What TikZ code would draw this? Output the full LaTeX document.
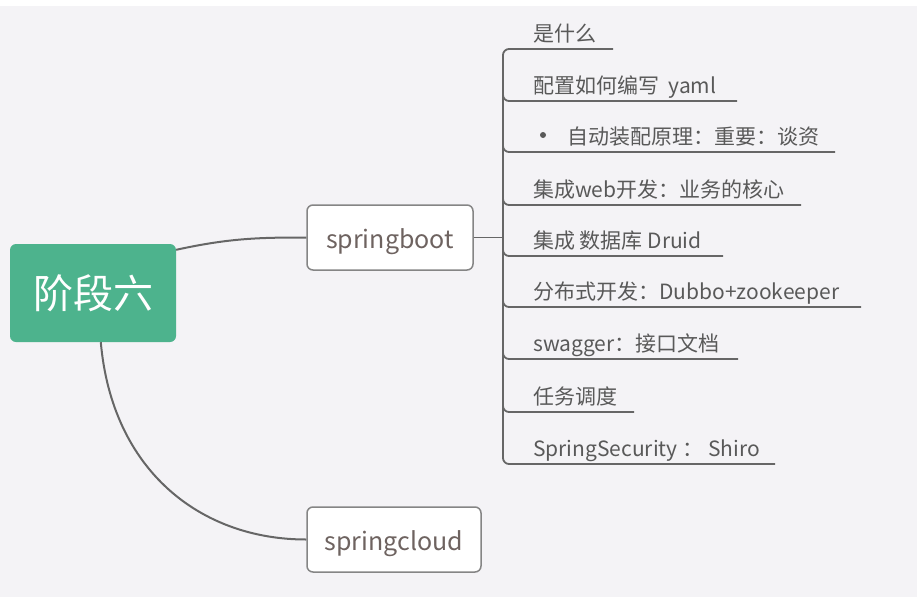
\documentclass[tikz,border=0pt]{standalone}
\usepackage{fontspec}
\setmainfont{Noto Sans CJK SC}
\usetikzlibrary{calc}
\definecolor{bg}{HTML}{F4F3F6}
\definecolor{rootgreen}{HTML}{4DB38D}
\definecolor{linegray}{HTML}{666666}
\definecolor{txtgray}{HTML}{595959}
\definecolor{boxtxt}{HTML}{6E6360}
\definecolor{boxborder}{HTML}{858585}
\tikzset{
  rootbox/.style={fill=rootgreen, rounded corners=6pt, text=white, font=\fontsize{40}{44}\selectfont, minimum width=166pt, minimum height=98pt, inner sep=0pt},
  topicbox/.style={draw=boxborder, line width=1.5pt, fill=white, rounded corners=6pt, text=boxtxt, font=\fontsize{25}{29}\selectfont, minimum height=65pt, inner sep=0pt, text height=23pt, text depth=1pt},
  item/.style={anchor=base west, inner sep=0pt, text=txtgray, font=\fontsize{21}{25}\selectfont},
  conn/.style={draw=linegray, line width=2pt},
  uline/.style={draw=linegray, line width=1.8pt, rounded corners=6pt},
}
\begin{document}
\begin{tikzpicture}[x=1pt, y=-1pt]
\useasboundingbox (0,0) rectangle (917,597);
\fill[white] (0,0) rectangle (917,6);
\fill[bg] (0,6) rectangle (917,597);

\node[rootbox] (root) at (93,293) {阶段六};
\node[topicbox, minimum width=166pt] (sb) at (390,237.5) {springboot};
\node[topicbox, minimum width=174pt] (sc) at (394,539.5) {springcloud};

\coordinate (r1) at ($(root.north east)+(0,6)$);
\coordinate (r2) at ($(root.south west)+(91,0)$);
\draw[conn] (r1) .. controls (230,238) and (260,237.5) .. (sb.west);
\draw[conn] (r2) .. controls (112,470) and (200,539.5) .. (sc.west);

\coordinate (j) at (503,237.5);
\draw[conn, line width=1.8pt] (sb.east) -- (j);

% items
\node[item] (i1) at (533,41) {是什么};
\node[item] (i2) at (533,93) {配置如何编写\ \ yaml};
\node[item] (i3) at (567,144) {自动装配原理：重要：谈资};
\node[item] (i4) at (533,197) {集成web开发：业务的核心};
\node[item] (i5) at (533,248) {集成 数据库 Druid};
\node[item] (i6) at (533,299) {分布式开发：Dubbo+zookeeper};
\node[item] (i7) at (533,351) {swagger：接口文档};
\node[item] (i8) at (533,404) {任务调度};
\node[item] (i9) at (533,456) {SpringSecurity ： Shiro};
\fill[txtgray] (543,135) circle (3pt);

\coordinate (e1) at (613,49);
\coordinate (e2) at (737,101);
\coordinate (e3) at (835,152);
\coordinate (e4) at (801,205);
\coordinate (e5) at (723,256);
\coordinate (e6) at (861,307);
\coordinate (e7) at (738,359);
\coordinate (e8) at (634,412);
\coordinate (e9) at (775,464);

\draw[uline] (e1) -- (503,49) -- (503,464) -- (e9);
\foreach \k in {2,...,8} {
  \draw[uline] ($(e\k -| j)+(0,-20)$) |- (e\k);
}
\end{tikzpicture}
\end{document}
